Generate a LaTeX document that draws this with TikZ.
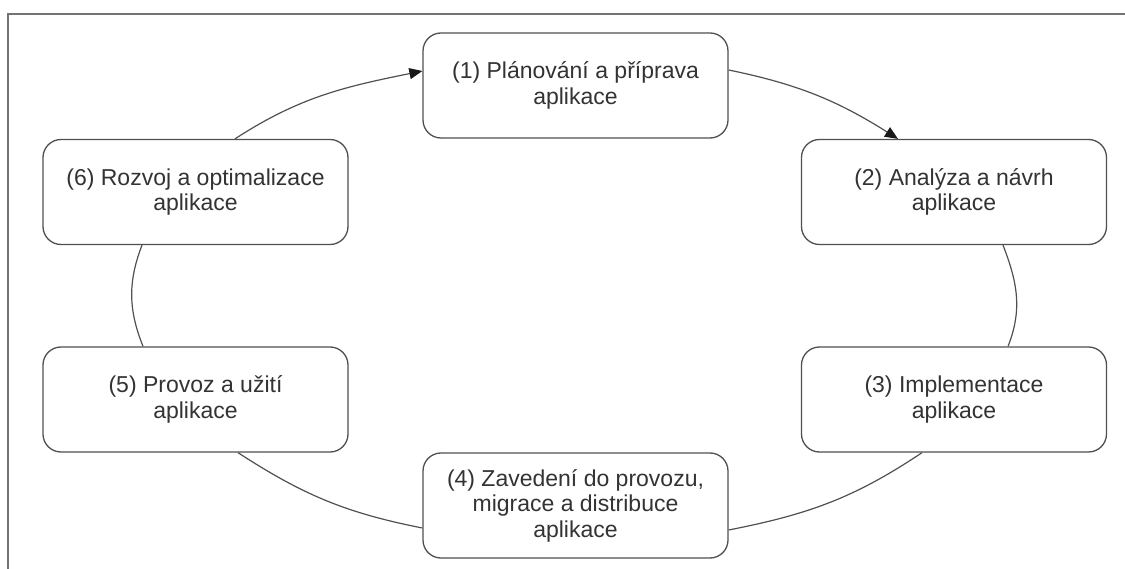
\documentclass[tikz,border=0pt]{standalone}
\usepackage{fontspec}
\setmainfont{Liberation Sans}
\usetikzlibrary{arrows.meta}
\definecolor{linec}{HTML}{505050}
\definecolor{textc}{HTML}{333333}
\begin{document}
\begin{tikzpicture}[x=1pt,y=1pt,
  phase/.style={draw=linec, line width=1.3pt, rounded corners=18pt, fill=white,
    minimum width=305pt, minimum height=105pt, align=center, text=textc,
    inner sep=0pt, font=\fontsize{23}{25.5}\selectfont},
  conn/.style={draw=linec, line width=1.2pt},
  arr/.style={conn, -{Triangle[length=13pt,width=11pt,color=black!90]}},
  frame/.style={draw=linec!80, line width=1.3pt}]
\useasboundingbox (0,0) rectangle (1125,-569);
\draw[frame] (1125,-14) -- (8,-14) -- (8,-569);
\node[phase] (n1) at (575.5,-85.5) {(1) Plánování a příprava\\aplikace};
\node[phase] (n2) at (954,-192) {(2) Analýza a návrh\\aplikace};
\node[phase] (n3) at (954,-399.5) {(3) Implementace\\aplikace};
\node[phase] (n4) at (575.5,-505.5) {(4) Zavedení do provozu,\\migrace a distribuce\\aplikace};
\node[phase] (n5) at (195.5,-399.5) {(5) Provoz a užití\\aplikace};
\node[phase] (n6) at (195.5,-192) {(6) Rozvoj a optimalizace\\aplikace};
\draw[arr] ([xshift=39.5pt]n6.north) to[out=33,in=191.5] ([yshift=14.5pt]n1.west);
\draw[arr] ([yshift=15.5pt]n1.east) to[out=-11.6,in=147.8] ([xshift=-56pt]n2.north);
\draw[conn] ([xshift=49pt]n2.south) to[out=-68.8,in=68.3] ([xshift=54pt]n3.north);
\draw[conn] ([xshift=-32pt]n3.south) to[out=213.8,in=11.1] ([yshift=-24.5pt]n4.east);
\draw[conn] ([yshift=-22.5pt]n4.west) to[out=168.8,in=-33] ([xshift=42.5pt]n5.south);
\draw[conn] ([xshift=-52.5pt]n5.north) to[out=111.7,in=-111] ([xshift=-53.5pt]n6.south);
\end{tikzpicture}
\end{document}
